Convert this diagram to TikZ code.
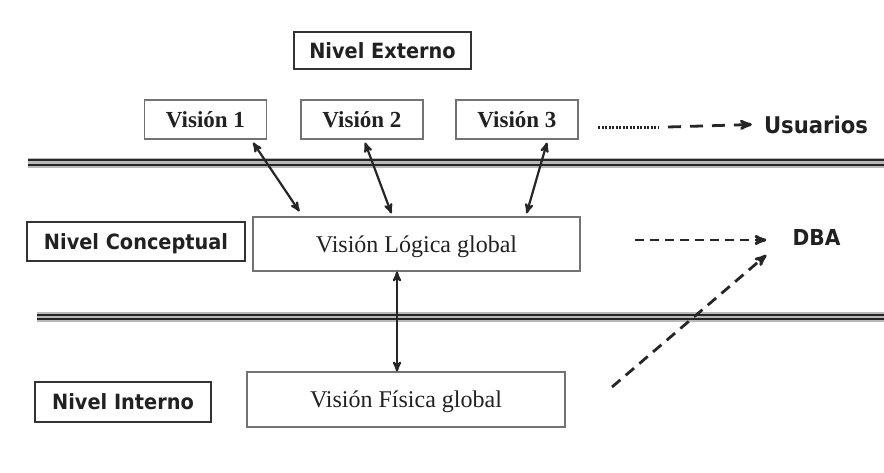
\documentclass[tikz,border=0pt]{standalone}
\usepackage{fontspec}
\setmainfont{Liberation Serif}
\newfontfamily\lvlfont[FakeStretch=0.92]{DejaVu Sans}
\usetikzlibrary{arrows}

\tikzset{
  lvl/.style={draw=black!80,line width=1.4pt,inner sep=0pt,text depth=0pt,text=black!87,
    font=\lvlfont\bfseries\fontsize{21}{21}\selectfont},
  vis/.style={draw=black!55,line width=1.2pt,inner sep=0pt,text depth=0pt,text=black!87,
    font=\bfseries\fontsize{23}{23}\selectfont},
  glob/.style={draw=black!55,line width=1.2pt,inner sep=0pt,text depth=0pt,text=black!87,
    font=\fontsize{24}{24}\selectfont},
  tag/.style={inner sep=0pt,text=black!87,font=\lvlfont\bfseries\fontsize{22}{22}\selectfont},
  link/.style={<->,>=stealth',line width=2.2pt,black!85},
  dsh/.style={->,>=stealth',line width=2.8pt,black!85,dash pattern=on 9pt off 6pt}
}

\begin{document}
\begin{tikzpicture}[x=1pt,y=-1pt]
        \useasboundingbox (0,0) rectangle (884,472);
        \foreach \y/\x in {162.5/28, 317/37} {
          \fill[gray!55] (\x,\y-5) rectangle (884,\y+5);
          \draw[black!85,line width=1.7pt] (\x,\y-2.2) -- (884,\y-2.2) (\x,\y+2.2) -- (884,\y+2.2);
        }
        \node[lvl,minimum width=177pt,minimum height=37pt] (ext) at (382.5,50.5) {Nivel Externo};
        \foreach \n/\x in {1/205.5, 2/362, 3/517} {
          \node[vis,minimum width=122pt,minimum height=39pt] (v\n) at (\x,119.5) {Visión \n};
        }
        \node[lvl,minimum width=218pt,minimum height=39pt] (concept) at (136,241.5) {Nivel Conceptual};
        \node[glob,minimum width=327pt,minimum height=54pt] (log) at (416.5,244) {Visión Lógica global};
        \node[lvl,minimum width=176pt,minimum height=40pt] (intern) at (123,402) {Nivel Interno};
        \node[glob,minimum width=318pt,minimum height=55pt] (fis) at (406,399.5) {Visión Física global};
        \node[tag,font=\lvlfont\bfseries\fontsize{23}{23}\selectfont] (usr) at (816,124.5) {Usuarios};
        \node[tag] (dba) at (816.5,237) {DBA};

        \draw[link] ([xshift=-14pt,yshift=-3pt]v1.south east) -- ([xshift=47pt,yshift=5pt]log.north west);
        \draw[link] ([xshift=3pt,yshift=-3pt]v2.south) -- ([xshift=139pt,yshift=3pt]log.north west);
        \draw[link] ([xshift=30pt,yshift=-3pt]v3.south) -- ([xshift=-54pt,yshift=3pt]log.north east);
        \draw[link] ([xshift=-19.5pt]log.south) -- ([xshift=-9pt]fis.north);

        \coordinate (dots) at (598,127);
        \coordinate (dashes) at (668,127);
        \coordinate (dbaline) at (635,240);
        \coordinate (dbadiag) at (612,387);
        \draw[black!85,line width=3pt,dash pattern=on 2pt off 1.5pt] (dots) -- ++(60,0);
        \draw[dsh,dash pattern=on 13pt off 9pt] (dashes) -- ([xshift=-12pt]usr.west);
        \draw[dsh] (dbaline) -- ([xshift=-26pt,yshift=-3pt]dba.west);
        \draw[dsh,dash pattern=on 11pt off 7pt] (dbadiag) -- ([xshift=-26pt,yshift=-18pt]dba.west);
\end{tikzpicture}
\end{document}
